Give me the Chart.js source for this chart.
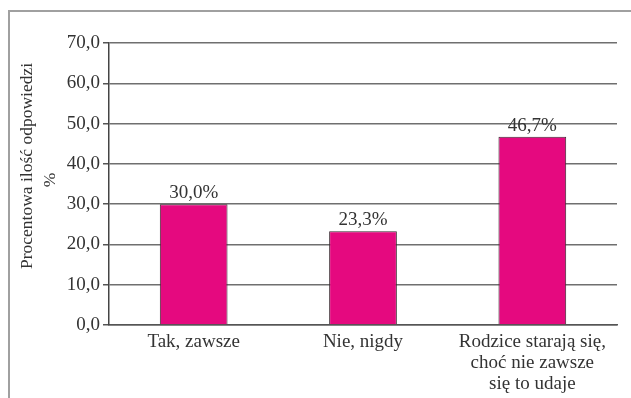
<!DOCTYPE html>
<html>
<head>
<meta charset="utf-8">
<script src="https://cdn.jsdelivr.net/npm/chart.js@4"></script>
<style>
  html, body { margin: 0; padding: 0; background: #fff; }
  #wrap { position: relative; width: 631px; height: 398px; }
  #frame { position: absolute; left: 8px; top: 10px; right: 0; bottom: 0; border-left: 2px solid #a0a0a0; border-top: 2px solid #a0a0a0; pointer-events: none; }
</style>
</head>
<body>
<div id="wrap">
  <canvas id="chart" width="631" height="398"></canvas>
  <div id="frame"></div>
</div>
<script>
  // dane z wykresu
  const categories = ['Tak, zawsze', 'Nie, nigdy', ['Rodzice starają się,', 'choć nie zawsze', 'się to udaje']];
  const values = [30.0, 23.3, 46.7];
  const yTicks = [0, 10, 20, 30, 40, 50, 60, 70];
  const yTitle = 'Procentowa ilość odpowiedzi';
  const yUnit = '%';

  const fontFam = "'Liberation Serif', 'DejaVu Serif', serif";
  const textColor = '#333333';

  // etykiety nad słupkami
  const valueLabels = {
    id: 'valueLabels',
    afterDatasetsDraw(chart) {
      const ctx = chart.ctx;
      const meta = chart.getDatasetMeta(0);
      ctx.save();
      ctx.font = '19px ' + fontFam;
      ctx.fillStyle = textColor;
      ctx.textAlign = 'center';
      ctx.textBaseline = 'alphabetic';
      meta.data.forEach((bar, i) => {
        ctx.fillText(values[i].toFixed(1).replace('.', ',') + '%', bar.x, bar.y - 6);
      });
      ctx.restore();
    }
  };

  // tytuł osi Y (dwie linie, lekko przesunięte jak w oryginale)
  const axisTitle = {
    id: 'axisTitle',
    afterDraw(chart) {
      const ctx = chart.ctx;
      const area = chart.chartArea;
      const mid = (area.top + area.bottom) / 2;
      ctx.save();
      ctx.fillStyle = textColor;
      ctx.textAlign = 'center';
      ctx.textBaseline = 'middle';
      ctx.font = '17.5px ' + fontFam;
      ctx.translate(27, mid - 18);
      ctx.rotate(-Math.PI / 2);
      ctx.fillText(yTitle, 0, 0);
      ctx.restore();
      ctx.save();
      ctx.fillStyle = textColor;
      ctx.textAlign = 'center';
      ctx.textBaseline = 'middle';
      ctx.font = '17.5px ' + fontFam;
      ctx.translate(50, mid - 4);
      ctx.rotate(-Math.PI / 2);
      ctx.fillText(yUnit, 0, 0);
      ctx.restore();
    }
  };

  new Chart(document.getElementById('chart'), {
    type: 'bar',
    data: {
      labels: categories,
      datasets: [{
        data: values,
        backgroundColor: '#e5097f',
        borderColor: '#3a2a30',
        borderWidth: 1,
        categoryPercentage: 1.0,
        barPercentage: 0.4
      }]
    },
    options: {
      responsive: false,
      animation: false,
      layout: { padding: { top: 43, right: 14, bottom: 0, left: 15 } },
      plugins: { legend: { display: false }, tooltip: { enabled: false } },
      scales: {
        x: {
          grid: { display: false, drawTicks: false },
          border: { color: '#555', width: 1.5 },
          ticks: { color: textColor, font: { family: fontFam, size: 19, lineHeight: 1.1 }, padding: 7, maxRotation: 0, autoSkip: false },
          afterFit(scale) { scale.height = 398 - 325; }
        },
        y: {
          min: 0, max: 70,
          afterBuildTicks(scale) { scale.ticks = yTicks.map(v => ({ value: v })); },
          grid: { color: '#6f6f6f', lineWidth: 1.5, tickLength: 6, tickColor: '#555' },
          border: { color: '#444', width: 1.5 },
          ticks: {
            color: textColor, font: { family: fontFam, size: 19 }, padding: 3,
            callback: (v) => v.toFixed(1).replace('.', ',')
          },
          afterFit(scale) { scale.width = 109 - 15; }
        }
      }
    },
    plugins: [valueLabels, axisTitle]
  });
</script>
</body>
</html>
